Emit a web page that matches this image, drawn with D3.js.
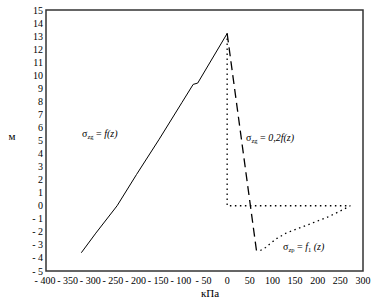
<!DOCTYPE html>
<html>
<head>
<meta charset="utf-8">
<script src="https://cdn.jsdelivr.net/npm/d3@7"></script>
<style>
body { margin: 0; background: #fff; }
text { font-family: "Liberation Serif", serif; }
</style>
</head>
<body>
<script>
// stress values (kPa) vs depth (m)
var zgX = [-322, -290, -243, -200, -150, -100, -75, -65, 0];
var zgY = [-3.6, -2.1, 0, 2.4, 5.1, 7.9, 9.3, 9.4, 13.2];
var zg02X = [0, 65];
var zg02Y = [13.2, -3.5];
var zpX = [0, 0, 272, 250, 220, 190, 160, 130, 110, 95, 85, 70];
var zpY = [13.2, 0, 0, -0.4, -0.9, -1.3, -1.7, -2.1, -2.5, -2.9, -3.2, -3.5];
var xTicks = [-400, -350, -300, -250, -200, -150, -100, -50, 0, 50, 100, 150, 200, 250, 300];
var yTicks = [-5, -4, -3, -2, -1, 0, 1, 2, 3, 4, 5, 6, 7, 8, 9, 10, 11, 12, 13, 14, 15];

var svg = d3.select("body")
  .append("svg")
    .attr("width", 377)
    .attr("height", 304)

var x = d3.scaleLinear().domain([-400, 300]).range([46, 363])
var y = d3.scaleLinear().domain([-5, 15]).range([271, 10])

function fmt(v) { return v < 0 ? "- " + Math.abs(v) : String(v) }

// frame
svg.append("rect").attr("x", 46).attr("y", 10).attr("width", 317).attr("height", 261)
  .style("fill", "none").style("stroke", "#333").style("stroke-width", 1.5)

// y tick labels
svg.selectAll(".yt").data(yTicks).enter().append("text")
  .attr("x", 43).attr("y", d => y(d) + 3.5)
  .attr("text-anchor", "end").style("font-size", "10px").text(fmt)

// x tick labels
svg.selectAll(".xt").data(xTicks).enter().append("text")
  .attr("x", d => x(d) + (d < 0 ? -1 : 0)).attr("y", 284)
  .attr("text-anchor", "middle").style("font-size", "10px").text(fmt)

svg.append("text").attr("x", 12).attr("y", 140).attr("text-anchor", "middle").style("font-size", "11px").text("м")
svg.append("text").attr("x", 210).attr("y", 297).attr("text-anchor", "middle").style("font-size", "11px").text("кПа")

var line = d3.line().x(d => x(d[0])).y(d => y(d[1]))

svg.append("path").datum(d3.zip(zgX, zgY)).attr("d", line)
  .style("fill", "none").style("stroke", "#000").style("stroke-width", 1)
svg.append("path").datum(d3.zip(zg02X, zg02Y)).attr("d", line)
  .style("fill", "none").style("stroke", "#000").style("stroke-width", 1.3).style("stroke-dasharray", "9,5")
svg.append("path").datum(d3.zip(zpX, zpY)).attr("d", line)
  .style("fill", "none").style("stroke", "#000").style("stroke-width", 1.3).style("stroke-dasharray", "1.5,3.5")

// annotations
function label(px, py, sub, rest, restSub, tail) {
  var t = svg.append("text").attr("x", px).attr("y", py).style("font-size", "10px")
  t.append("tspan").text("σ")
  t.append("tspan").attr("dy", 2).style("font-size", "6.5px").text(sub)
  var r = t.append("tspan").attr("dy", -2).text(" = ")
  t.append("tspan").style("font-style", "italic").text(rest)
  if (restSub) {
    t.append("tspan").attr("dy", 2).style("font-size", "6.5px").text(restSub)
    t.append("tspan").attr("dy", -2).text(" ")
  }
  t.append("tspan").style("font-style", "italic").text(tail)
}
label(82, 137, "zg", "f", null, "(z)")
label(246, 141, "zg", "0,2f", null, "(z)")
label(283, 250, "zp", "f", "1", "(z)")
</script>
</body>
</html>
